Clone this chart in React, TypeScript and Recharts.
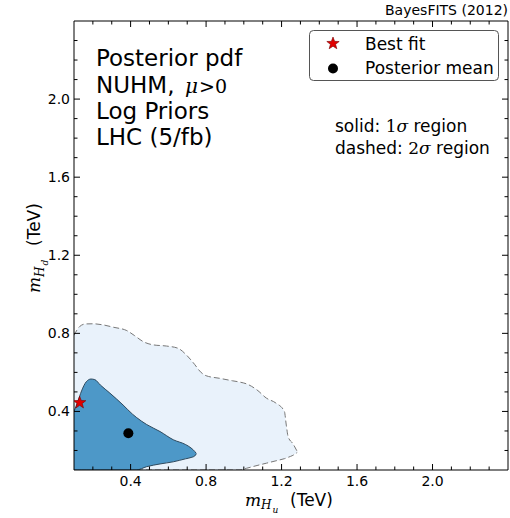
import React from 'react';
import { ComposedChart, Area, Scatter, XAxis, YAxis } from 'recharts';

// ---------- data (TeV) ----------
const X_DOMAIN: [number, number] = [0.1, 2.4];
const Y_DOMAIN: [number, number] = [0.1, 2.4];
const MAJOR_TICKS = [0.4, 0.8, 1.2, 1.6, 2.0];
const ALL_TICKS = [0.2, 0.3, 0.4, 0.5, 0.6, 0.7, 0.8, 0.9, 1.0, 1.1, 1.2, 1.3, 1.4, 1.5, 1.6, 1.7, 1.8, 1.9, 2.0, 2.1, 2.2, 2.3];

// 2 sigma region (dashed), upper and lower boundary
const SIG2_X = [0.1, 0.13, 0.16, 0.2, 0.25, 0.31, 0.38, 0.42, 0.47, 0.52, 0.59, 0.65, 0.7, 0.74, 0.77, 0.8, 0.87, 0.94, 0.98, 1.015, 1.07, 1.12, 1.17, 1.215, 1.225, 1.235, 1.26, 1.283];
const SIG2_HI = [0.79, 0.835, 0.848, 0.849, 0.844, 0.831, 0.814, 0.789, 0.756, 0.741, 0.735, 0.724, 0.685, 0.64, 0.603, 0.583, 0.57, 0.557, 0.55, 0.541, 0.51, 0.468, 0.443, 0.4, 0.33, 0.27, 0.235, 0.195];
const SIG2_LO = [0.1, 0.1, 0.1, 0.1, 0.1, 0.1, 0.1, 0.1, 0.1, 0.1, 0.1, 0.1, 0.1, 0.1, 0.1, 0.1, 0.1, 0.1, 0.1, 0.109, 0.123, 0.135, 0.147, 0.158, 0.161, 0.165, 0.175, 0.19];

// 1 sigma region (solid)
const SIG1_X = [0.1, 0.12, 0.14, 0.165, 0.19, 0.21, 0.24, 0.29, 0.36, 0.41, 0.43, 0.485, 0.556, 0.626, 0.69, 0.72, 0.74, 0.748];
const SIG1_HI = [0.4, 0.45, 0.505, 0.552, 0.566, 0.563, 0.535, 0.494, 0.433, 0.386, 0.37, 0.333, 0.297, 0.255, 0.231, 0.213, 0.195, 0.185];
const SIG1_LO = [0.1, 0.1, 0.1, 0.1, 0.1, 0.1, 0.1, 0.1, 0.1, 0.1, 0.1, 0.117, 0.131, 0.142, 0.157, 0.164, 0.172, 0.183];

const BEST_FIT = [{ x: 0.13, y: 0.445 }];
const POSTERIOR_MEAN = [{ x: 0.388, y: 0.288 }];

const sig2Data = SIG2_X.map((x, i) => ({ x, band: [SIG2_LO[i], SIG2_HI[i]] }));
const sig1Data = SIG1_X.map((x, i) => ({ x, band: [SIG1_LO[i], SIG1_HI[i]] }));

// ---------- styles ----------
const SANS = "'DejaVu Sans', sans-serif";
const MATH = "'DejaVu Serif', serif";
const LIGHT = '#e9f2fb';
const DARK = '#4d98c8';

const isMajor = (v: number) => MAJOR_TICKS.some((m) => Math.abs(m - v) < 1e-6);
const fmt = (v: number) => v.toFixed(1);

const starPoints = (cx: number, cy: number, R: number, r: number) => {
  const pts: string[] = [];
  for (let i = 0; i < 10; i++) {
    const a = -Math.PI / 2 + (i * Math.PI) / 5;
    const rad = i % 2 === 0 ? R : r;
    pts.push(`${cx + rad * Math.cos(a)},${cy + rad * Math.sin(a)}`);
  }
  return pts.join(' ');
};

const StarShape = (p: any) => (
  <polygon points={starPoints(p.cx, p.cy, 6.5, 2.7)} fill="#e00000" stroke="#7a0000" strokeWidth={0.6} />
);
const DotShape = (p: any) => <circle cx={p.cx} cy={p.cy} r={5} fill="#000" />;

const BottomTick = ({ x, y, payload }: any) => {
  const major = isMajor(payload.value);
  return (
    <g>
      <line x1={x} x2={x} y1={y} y2={y - (major ? 6 : 3.5)} stroke="#000" strokeWidth={1} />
      {major && (
        <text x={x} y={y + 16} textAnchor="middle" fontSize={14} fontFamily={SANS} fill="#000">
          {fmt(payload.value)}
        </text>
      )}
    </g>
  );
};
const TopTick = ({ x, y, payload }: any) => {
  const major = isMajor(payload.value);
  return <line x1={x} x2={x} y1={y} y2={y + (major ? 6 : 3.5)} stroke="#000" strokeWidth={1} />;
};
const LeftTick = ({ x, y, payload }: any) => {
  const major = isMajor(payload.value);
  return (
    <g>
      <line x1={x} x2={x + (major ? 6 : 3.5)} y1={y} y2={y} stroke="#000" strokeWidth={1} />
      {major && (
        <text x={x - 4} y={y + 5} textAnchor="end" fontSize={14} fontFamily={SANS} fill="#000">
          {fmt(payload.value)}
        </text>
      )}
    </g>
  );
};
const RightTick = ({ x, y, payload }: any) => {
  const major = isMajor(payload.value);
  return <line x1={x} x2={x - (major ? 6 : 3.5)} y1={y} y2={y} stroke="#000" strokeWidth={1} />;
};

export default function App() {
  return (
    <div style={{ position: 'absolute', left: 0, top: 0, width: 510, height: 518, background: '#fff' }}>
      <ComposedChart width={510} height={518} margin={{ top: 20, right: 1, bottom: 18, left: 14 }}>
        <Area
          data={sig2Data}
          dataKey="band"
          type="monotone"
          fill={LIGHT}
          fillOpacity={1}
          stroke="#777"
          strokeWidth={1}
          strokeDasharray="6 3"
          isAnimationActive={false}
        />
        <Area
          data={sig1Data}
          dataKey="band"
          type="monotone"
          fill={DARK}
          fillOpacity={1}
          stroke="#2f4a5e"
          strokeWidth={1}
          isAnimationActive={false}
        />
        <Scatter data={POSTERIOR_MEAN} dataKey="y" shape={DotShape} isAnimationActive={false} />
        <Scatter data={BEST_FIT} dataKey="y" shape={StarShape} isAnimationActive={false} />
        <XAxis
          dataKey="x"
          type="number"
          domain={X_DOMAIN}
          allowDataOverflow
          ticks={ALL_TICKS}
          interval={0}
          height={30}
          tickSize={0}
          tickMargin={0}
          tickLine={false}
          tick={BottomTick}
          axisLine={{ stroke: '#000', strokeWidth: 1 }}
        />
        <XAxis
          xAxisId="top"
          orientation="top"
          dataKey="x"
          type="number"
          domain={X_DOMAIN}
          allowDataOverflow
          ticks={ALL_TICKS}
          interval={0}
          height={1}
          tickSize={0}
          tickMargin={0}
          tickLine={false}
          tick={TopTick}
          axisLine={{ stroke: '#000', strokeWidth: 1 }}
        />
        <YAxis
          type="number"
          domain={Y_DOMAIN}
          allowDataOverflow
          ticks={ALL_TICKS}
          interval={0}
          width={60}
          tickSize={0}
          tickMargin={0}
          tickLine={false}
          tick={LeftTick}
          axisLine={{ stroke: '#000', strokeWidth: 1 }}
        />
        <YAxis
          yAxisId="right"
          orientation="right"
          type="number"
          domain={Y_DOMAIN}
          allowDataOverflow
          ticks={ALL_TICKS}
          interval={0}
          width={1}
          tickSize={0}
          tickMargin={0}
          tickLine={false}
          tick={RightTick}
          axisLine={{ stroke: '#000', strokeWidth: 1 }}
        />
      </ComposedChart>
      <svg
        width={510}
        height={518}
        style={{ position: 'absolute', left: 0, top: 0, pointerEvents: 'none' }}
      >
        <text x={508} y={15} textAnchor="end" fontSize={14} fontFamily={SANS} fill="#000">
          BayesFITS (2012)
        </text>
        <g fontFamily={SANS} fontSize={23} fill="#000">
          <text x={96} y={66}>Posterior pdf</text>
          <text x={96} y={92.5}>
            NUHM,
            <tspan x={185} fontFamily={MATH} fontStyle="italic" fontSize={20}>μ</tspan>
            <tspan x={199} fontFamily={MATH} fontSize={19}>&gt;0</tspan>
          </text>
          <text x={96} y={118.5}>Log Priors</text>
          <text x={96} y={145}>LHC (5/fb)</text>
        </g>
        <rect x={309.5} y={30.5} width={189} height={50} rx={4} fill="#fff" stroke="#555" strokeWidth={1} />
        <polygon points={starPoints(333, 43.5, 6.5, 2.7)} fill="#e00000" stroke="#7a0000" strokeWidth={0.6} />
        <circle cx={333} cy={68.5} r={5} fill="#000" />
        <text x={365} y={50} fontSize={17} fontFamily={SANS} fill="#000">Best fit</text>
        <text x={365} y={73.5} fontSize={17} fontFamily={SANS} fill="#000">Posterior mean</text>
        <text x={335} y={131.5} fontSize={17} fontFamily={SANS} fill="#000">
          solid:
          <tspan fontFamily={MATH}> 1</tspan>
          <tspan fontFamily={MATH} fontStyle="italic">σ</tspan>
          <tspan> region</tspan>
        </text>
        <text x={335} y={153.5} fontSize={17} fontFamily={SANS} fill="#000">
          dashed:
          <tspan fontFamily={MATH}> 2</tspan>
          <tspan fontFamily={MATH} fontStyle="italic">σ</tspan>
          <tspan> region</tspan>
        </text>
        {/* x label */}
        <text x={245} y={505.5} fontSize={17} fontFamily={MATH} fontStyle="italic" fill="#000">m</text>
        <text x={261} y={509} fontSize={12} fontFamily={MATH} fontStyle="italic" fill="#000">H</text>
        <text x={272.5} y={513} fontSize={9} fontFamily={MATH} fontStyle="italic" fill="#000">u</text>
        <text x={290} y={505.5} fontSize={17} fontFamily={SANS} fill="#000">(TeV)</text>
        {/* y label */}
        <g transform="translate(40,293) rotate(-90)">
          <text x={0} y={0} fontSize={17} fontFamily={MATH} fontStyle="italic" fill="#000">m</text>
          <text x={16} y={3.5} fontSize={12} fontFamily={MATH} fontStyle="italic" fill="#000">H</text>
          <text x={27.5} y={7.5} fontSize={9} fontFamily={MATH} fontStyle="italic" fill="#000">d</text>
          <text x={47} y={0} fontSize={17} fontFamily={SANS} fill="#000">(TeV)</text>
        </g>
      </svg>
    </div>
  );
}
